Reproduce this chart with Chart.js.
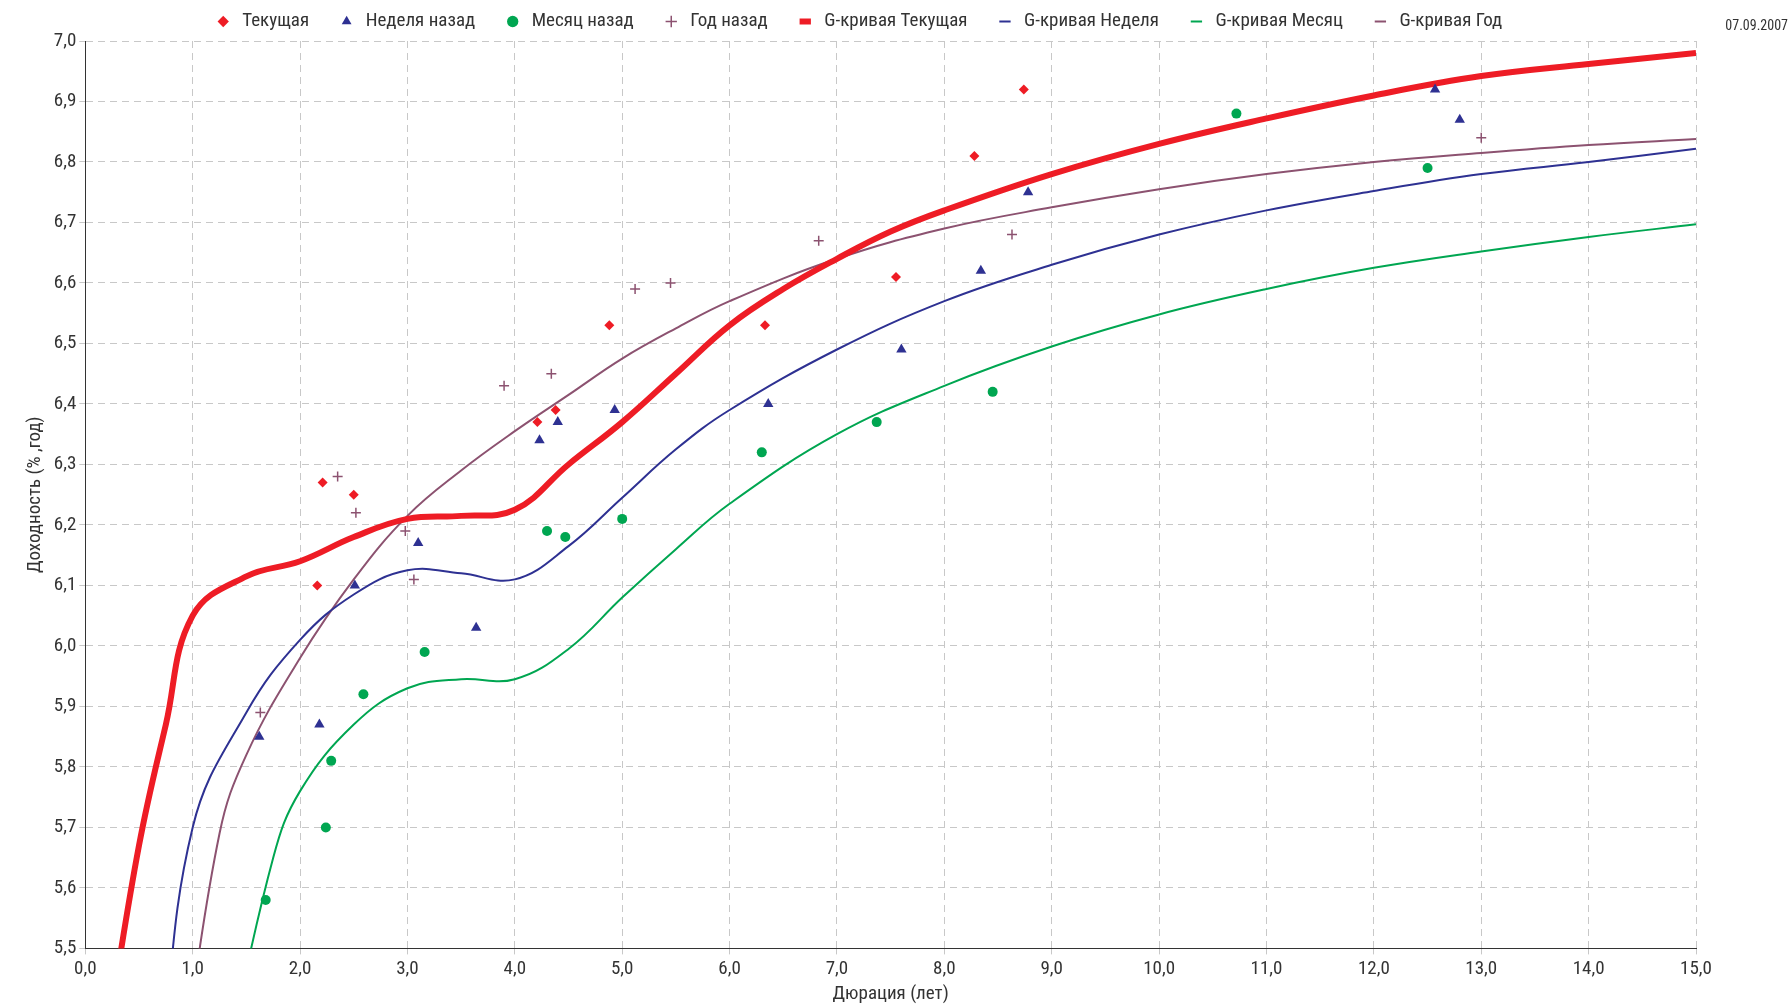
<!DOCTYPE html>
<html>
<head>
<meta charset="utf-8">
<script src="https://cdn.jsdelivr.net/npm/chart.js@4/dist/chart.umd.min.js"></script>
<style>
html, body { margin: 0; padding: 0; background: #fff; }
#wrap { width: 1792px; height: 1008px; position: relative; }
</style>
</head>
<body>
<div id="wrap"><canvas id="c"></canvas></div>
<script>
// точки рынка (дюрация, доходность)
const curX = [2.21, 2.16, 2.50, 4.21, 4.38, 4.88, 6.33, 7.55, 8.28, 8.74];
const curY = [6.27, 6.10, 6.25, 6.37, 6.39, 6.53, 6.53, 6.61, 6.81, 6.92];
const weekX = [1.62, 2.18, 2.51, 3.10, 3.64, 4.23, 4.40, 4.93, 6.36, 7.60, 8.34, 8.78, 12.57, 12.80];
const weekY = [5.85, 5.87, 6.10, 6.17, 6.03, 6.34, 6.37, 6.39, 6.40, 6.49, 6.62, 6.75, 6.92, 6.87];
const monthX = [1.68, 2.24, 2.29, 2.59, 3.16, 4.30, 4.47, 5.00, 6.30, 7.37, 8.45, 10.72, 12.50];
const monthY = [5.58, 5.70, 5.81, 5.92, 5.99, 6.19, 6.18, 6.21, 6.32, 6.37, 6.42, 6.88, 6.79];
const yearX = [1.63, 2.35, 2.52, 2.98, 3.06, 3.90, 4.34, 5.12, 5.45, 6.83, 8.63, 13.00];
const yearY = [5.89, 6.28, 6.22, 6.19, 6.11, 6.43, 6.45, 6.59, 6.60, 6.67, 6.68, 6.84];

// G-кривые
const gCurX = [0.2, 0.5, 0.75, 1.0, 1.5, 2.0, 2.5, 3.0, 3.5, 4.0, 4.5, 5.0, 5.5, 6.0, 6.5, 7.0, 7.5, 8.0, 9.0, 10, 11, 12, 13, 14, 15];
const gCurY = [5.35, 5.67, 5.87, 6.05, 6.115, 6.14, 6.18, 6.21, 6.215, 6.225, 6.30, 6.37, 6.45, 6.53, 6.59, 6.64, 6.685, 6.72, 6.78, 6.83, 6.872, 6.91, 6.942, 6.962, 6.98];
const gWeekX = [0.7, 1.0, 1.5, 2.0, 2.5, 3.0, 3.5, 4.0, 4.5, 5.0, 5.5, 6.0, 7.0, 8.0, 9.0, 10, 11, 12, 13, 14, 15];
const gWeekY = [5.3, 5.70, 5.89, 6.01, 6.085, 6.125, 6.12, 6.11, 6.165, 6.245, 6.325, 6.39, 6.49, 6.57, 6.63, 6.68, 6.72, 6.752, 6.78, 6.80, 6.822];
const gMonthX = [1.3, 1.75, 2.0, 2.5, 3.0, 3.5, 4.0, 4.5, 5.0, 5.5, 6.0, 7.0, 8.0, 9.0, 10, 11, 12, 13, 14, 15];
const gMonthY = [5.3, 5.65, 5.76, 5.87, 5.93, 5.945, 5.945, 5.995, 6.08, 6.16, 6.235, 6.35, 6.43, 6.495, 6.548, 6.59, 6.625, 6.652, 6.676, 6.697];
const gYearX = [0.9, 1.25, 1.5, 2.0, 2.5, 3.0, 3.5, 4.0, 4.5, 5.0, 5.5, 6.0, 7.0, 8.0, 9.0, 10, 11, 12, 13, 14, 15];
const gYearY = [5.3, 5.69, 5.82, 5.98, 6.11, 6.215, 6.29, 6.355, 6.415, 6.475, 6.525, 6.57, 6.64, 6.69, 6.725, 6.755, 6.78, 6.80, 6.815, 6.828, 6.838];

const FONT = '"Liberation Sans Narrow", "Roboto Condensed", "Noto Sans", sans-serif';

function pts(xs, ys) {
    return xs.map((x, i) => ({ x: x, y: ys[i] }));
}

function scatter(label, xs, ys, color, style, r) {
    return {
        type: 'scatter', label: label, data: pts(xs, ys),
        backgroundColor: color, borderColor: color,
        pointStyle: style, pointRadius: r, borderWidth: style === 'cross' ? 1.5 : 0
    };
}

function curve(label, xs, ys, color, w) {
    return {
        type: 'line', label: label, data: pts(xs, ys),
        borderColor: color, backgroundColor: color, borderWidth: w,
        pointRadius: 0, pointStyle: 'line', tension: 0.4, fill: false
    };
}

// дата в правом верхнем углу
const datePlugin = {
    id: 'dateLabel',
    afterDraw(chart) {
        const ctx = chart.ctx;
        ctx.save();
        ctx.font = '14px ' + FONT;
        ctx.fillStyle = '#333';
        ctx.textAlign = 'right';
        ctx.fillText('07.09.2007', 1788, 26);
        ctx.restore();
    }
};

Chart.defaults.font.family = FONT;
Chart.defaults.color = '#333';

new Chart(document.getElementById('c'), {
    data: {
        datasets: [
            scatter('Текущая', curX, curY, '#ee1c25', 'rectRot', 5),
            scatter('Неделя назад', weekX, weekY, '#2e3192', 'triangle', 6),
            scatter('Месяц назад', monthX, monthY, '#00a651', 'circle', 5),
            scatter('Год назад', yearX, yearY, '#8c5270', 'cross', 5),
            curve('G-кривая Текущая', gCurX, gCurY, '#ee1c25', 6),
            curve('G-кривая Неделя', gWeekX, gWeekY, '#2e3192', 2),
            curve('G-кривая Месяц', gMonthX, gMonthY, '#00a651', 2),
            curve('G-кривая Год', gYearX, gYearY, '#8c5270', 2)
        ]
    },
    options: {
        responsive: true,
        maintainAspectRatio: false,
        animation: false,
        layout: { padding: { left: 20, right: 96, top: -16, bottom: 2 } },
        plugins: {
            tooltip: { enabled: false },
            legend: {
                position: 'top',
                labels: {
                    usePointStyle: true, boxWidth: 40, boxHeight: 8, padding: 28,
                    font: { size: 19 }, color: '#333'
                }
            }
        },
        scales: {
            x: {
                type: 'linear', min: 0, max: 15,
                title: { display: true, text: 'Дюрация (лет)', font: { size: 19 }, padding: 0 },
                ticks: { stepSize: 1, font: { size: 19 }, callback: v => v.toFixed(1).replace('.', ',') },
                grid: { color: '#c8c8c8', tickLength: 6 },
                border: { color: '#333', dash: [7, 5] }
            },
            y: {
                min: 5.5, max: 7.0,
                title: { display: true, text: 'Доходность (% ,год)', font: { size: 19 } },
                ticks: { stepSize: 0.1, font: { size: 19 }, callback: v => v.toFixed(1).replace('.', ',') },
                grid: { color: '#c8c8c8', tickLength: 6 },
                border: { color: '#333', dash: [7, 5] }
            }
        }
    },
    plugins: [datePlugin]
});
</script>
</body>
</html>
